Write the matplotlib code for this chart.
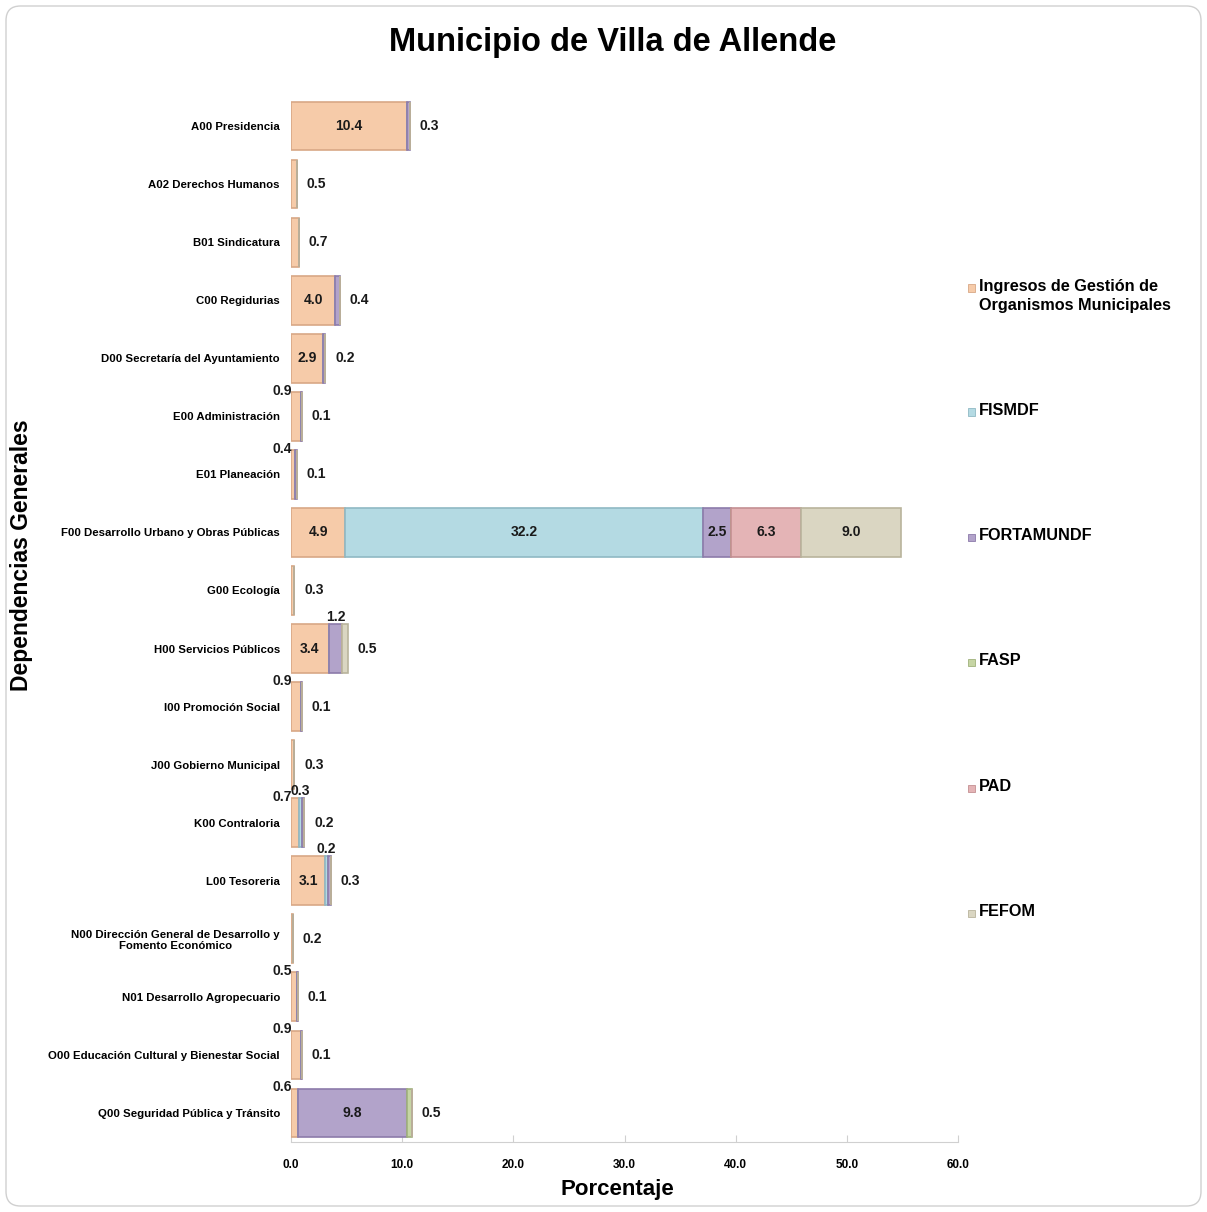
import matplotlib
matplotlib.use('Agg')
import matplotlib.pyplot as plt
from matplotlib.patches import FancyBboxPatch, Rectangle
import numpy as np

plt.rcParams['font.family'] = ['Liberation Sans', 'DejaVu Sans']

categories = [
    "A00 Presidencia",
    "A02 Derechos Humanos",
    "B01 Sindicatura",
    "C00 Regidurias",
    "D00 Secretaría del Ayuntamiento",
    "E00 Administración",
    "E01 Planeación",
    "F00 Desarrollo Urbano y Obras Públicas",
    "G00 Ecología",
    "H00 Servicios Públicos",
    "I00 Promoción Social",
    "J00 Gobierno Municipal",
    "K00 Contraloria",
    "L00 Tesoreria",
    "N00 Dirección General de Desarrollo y\nFomento Económico",
    "N01 Desarrollo Agropecuario",
    "O00 Educación Cultural y Bienestar Social",
    "Q00 Seguridad Pública y Tránsito",
]

series_names = ["Ingresos de Gestión de\nOrganismos Municipales", "FISMDF",
                "FORTAMUNDF", "FASP", "PAD", "FEFOM"]

ingresos   = [10.4, 0.5, 0.7, 4.0, 2.9, 0.9, 0.4, 4.9, 0.3, 3.4, 0.9, 0.3, 0.7, 3.1, 0.2, 0.5, 0.9, 0.6]
fismdf     = [0, 0, 0, 0, 0, 0, 0, 32.2, 0, 0, 0, 0, 0.3, 0.2, 0, 0, 0, 0]
fortamundf = [0.3, 0, 0, 0.4, 0.2, 0.1, 0.1, 2.5, 0, 1.2, 0.1, 0, 0.2, 0.3, 0, 0.1, 0.1, 9.8]
fasp       = [0, 0, 0, 0, 0, 0, 0, 0, 0, 0, 0, 0, 0, 0, 0, 0, 0, 0.5]
pad        = [0, 0, 0, 0, 0, 0, 0, 6.3, 0, 0, 0, 0, 0, 0, 0, 0, 0, 0]
fefom      = [0, 0, 0, 0, 0, 0, 0, 9.0, 0, 0.5, 0, 0, 0, 0, 0, 0, 0, 0]

x_ticks = [0, 10, 20, 30, 40, 50, 60]

series = [ingresos, fismdf, fortamundf, fasp, pad, fefom]
colors = ["#F6CBA9", "#B4DAE3", "#B2A3CA", "#C6D5A4", "#E4B4B6", "#DAD6C2"]
edges = ["#D8A886", "#8FB9C4", "#8C7BAA", "#A0B27C", "#C48F92", "#B9B49C"]

W, H = 1207, 1212
fig = plt.figure(figsize=(W / 100, H / 100), dpi=100)
fig.patches.append(FancyBboxPatch((6 / W, 6 / H), 1 - 12 / W, 1 - 12 / H,
                                  boxstyle="round,pad=0,rounding_size=0.012",
                                  transform=fig.transFigure, facecolor='white',
                                  edgecolor='#D0D0D0', linewidth=1.0, zorder=-10))

ax = fig.add_axes([291 / W, (H - 1142) / H, (958 - 291) / W, (1142 - 97) / H])
ax.set_facecolor('none')

n = len(categories)
y = np.arange(n)
bh = 0.84
left = np.zeros(n)
for vals, c, ec in zip(series, colors, edges):
    vals = np.array(vals, dtype=float)
    ax.barh(y, vals, left=left, height=bh, color=c, edgecolor=ec, linewidth=1.2, zorder=2)
    left = left + vals

# value labels
fs_val = 10
for i in range(n):
    segs = [(j, series[j][i]) for j in range(len(series)) if series[j][i] > 0]
    start = 0.0
    total = sum(v for _, v in segs)
    for k, (j, v) in enumerate(segs):
        txt = f"{v:.1f}"
        last = (k == len(segs) - 1)
        if v >= 2:
            ax.text(start + v / 2, i, txt, ha='center', va='center', fontsize=fs_val,
                    fontweight='bold', color='#1a1a1a', zorder=4)
        elif last:
            ax.annotate(txt, (total, i), xytext=(7, 0), textcoords='offset points',
                        ha='left', va='center', fontsize=fs_val, fontweight='bold',
                        color='#1a1a1a', zorder=4)
        elif k == 0:
            ax.annotate(txt, (0, i - bh / 2), xytext=(1, 1), textcoords='offset points',
                        ha='right', va='center', fontsize=fs_val, fontweight='bold',
                        color='#1a1a1a', zorder=4)
        else:
            ax.annotate(txt, (start + v / 2, i - bh / 2), xytext=(0, 0), textcoords='offset points',
                        ha='center', va='bottom', fontsize=fs_val, fontweight='bold',
                        color='#1a1a1a', zorder=4)
        start += v

ax.set_xlim(0, 60)
ax.set_ylim(n - 0.5, -0.5)
ax.set_xticks(x_ticks)
ax.set_xticklabels([f"{t:.1f}" for t in x_ticks], fontsize=8.5, fontweight='bold')
ax.set_yticks(y)
ax.set_yticklabels(categories, fontsize=8.2, fontweight='bold')
ax.tick_params(axis='y', length=0, pad=8)
ax.tick_params(axis='x', direction='in', length=5, color='#D0D0D0', pad=12)
for s in ['top', 'right', 'left']:
    ax.spines[s].set_visible(False)
ax.spines['bottom'].set_color('#D0D0D0')
for lbl in ax.get_yticklabels():
    lbl.set_multialignment('center')

fig.text(613 / W, 1 - 42 / H, "Municipio de Villa de Allende", ha='center', va='center',
         fontsize=23.5, fontweight='bold')
fig.text(22 / W, 1 - 555 / H, "Dependencias Generales", ha='center', va='center',
         rotation=90, fontsize=16.5, fontweight='bold')
fig.text(617 / W, 1 - 1190 / H, "Porcentaje", ha='center', va='center',
         fontsize=16, fontweight='bold')

# legend
leg_y = [288, 412, 537, 662, 788, 913]
for name, c, ec, yy in zip(series_names, colors, edges, leg_y):
    s = 7
    fig.patches.append(Rectangle(((968) / W, 1 - (yy + s / 2) / H), s / W, s / H,
                                 transform=fig.transFigure, facecolor=c, edgecolor=ec,
                                 linewidth=0.6))
    fig.text(979 / W, 1 - (yy - 9) / H, name, ha='left', va='top', fontsize=11.7,
             fontweight='bold', linespacing=1.35)

fig.savefig('out.png', dpi=100)
